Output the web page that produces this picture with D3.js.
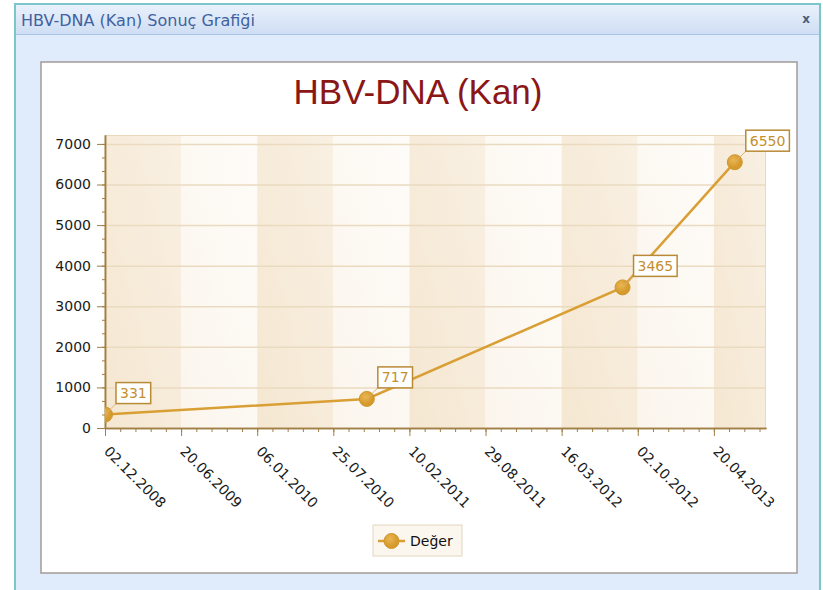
<!DOCTYPE html>
<html>
<head>
<meta charset="utf-8">
<script src="https://cdn.jsdelivr.net/npm/d3@7"></script>
<style>
  body { margin: 0; background: #fff; }
</style>
</head>
<body>
<div id="root"></div>
<script>
// values
const pointDates = ["02.12.2008", "21.10.2010", "23.08.2012", "14.06.2013"];
const pointValues = [331, 717, 3465, 6550];
const xTickLabels = ["02.12.2008", "20.06.2009", "06.01.2010", "25.07.2010", "10.02.2011",
  "29.08.2011", "16.03.2012", "02.10.2012", "20.04.2013"];
const xEnd = "04.09.2013";
const yTicks = [0, 1000, 2000, 3000, 4000, 5000, 6000, 7000];
const yMax = 7220;
const seriesName = "Değer";
const chartTitle = "HBV-DNA (Kan)";
const windowTitle = "HBV-DNA (Kan) Sonuç Grafiği";

const width = 823;
const height = 590;
const plotLeft = 105, plotRight = 766, plotTop = 135, plotBottom = 428;

const parse = d3.utcParse("%d.%m.%Y");
const data = pointDates.map((d, i) => ({ date: parse(d), value: pointValues[i] }));
const tickDates = xTickLabels.map(parse);

const svg = d3.select("#root").append("svg")
  .attr("width", width).attr("height", height)
  .style("display", "block");

const defs = svg.append("defs");

function grad(id, stops, x1, y1, x2, y2) {
  const g = defs.append("linearGradient").attr("id", id)
    .attr("x1", x1).attr("y1", y1).attr("x2", x2).attr("y2", y2);
  stops.forEach((s) => g.append("stop").attr("offset", s[0]).attr("stop-color", s[1]));
}
grad("titlebar", [[0, "#e9f1fc"], [1, "#cfdef4"]], 0, 0, 0, 1);
grad("bandDark", [[0, "#f5e7d1"], [1, "#f9f0e3"]], 0, 1, 1, 0);
grad("bandLight", [[0, "#fbf5ec"], [1, "#fefcf9"]], 0, 1, 1, 0);
const rg = defs.append("radialGradient").attr("id", "marker").attr("cx", "40%").attr("cy", "35%");
rg.append("stop").attr("offset", 0).attr("stop-color", "#eab651");
rg.append("stop").attr("offset", 1).attr("stop-color", "#d69a2c");
defs.append("clipPath").attr("id", "plotclip").append("rect")
  .attr("x", plotLeft).attr("y", plotTop)
  .attr("width", plotRight - plotLeft).attr("height", plotBottom - plotTop);

// window frame
svg.append("rect").attr("x", 15).attr("y", 4).attr("width", 805).attr("height", 600)
  .attr("fill", "#e0ecfc").attr("stroke", "#7cc5cb").attr("stroke-width", 2);
svg.append("rect").attr("x", 16).attr("y", 5).attr("width", 803).attr("height", 29)
  .attr("fill", "url(#titlebar)");
svg.append("line").attr("x1", 16).attr("x2", 819).attr("y1", 34.5).attr("y2", 34.5)
  .attr("stroke", "#a9c5ea");
svg.append("text").attr("x", 21).attr("y", 26)
  .attr("font-family", "DejaVu Sans").attr("font-size", 16).attr("fill", "#3f62a0")
  .text(windowTitle);
svg.append("text").attr("x", 806).attr("y", 23).attr("text-anchor", "middle")
  .attr("font-family", "DejaVu Sans").attr("font-weight", "bold").attr("font-size", 12)
  .attr("fill", "#4d5d75").text("x");

// chart panel
svg.append("rect").attr("x", 41).attr("y", 62).attr("width", 756).attr("height", 511)
  .attr("fill", "#fff").attr("stroke", "#a39a96").attr("stroke-width", 1.5);

svg.append("text").attr("x", 418).attr("y", 104).attr("text-anchor", "middle")
  .attr("font-family", "Liberation Sans").attr("font-size", 35).attr("fill", "#8b1616")
  .text(chartTitle);

const xScale = d3.scaleUtc().domain([tickDates[0], parse(xEnd)]).range([plotLeft, plotRight]);
const yScale = d3.scaleLinear().domain([0, yMax]).range([plotBottom, plotTop]);

// background bands between major ticks
const edges = tickDates.concat([parse(xEnd)]);
svg.append("g").selectAll("rect").data(d3.pairs(edges)).enter().append("rect")
  .attr("x", (d) => xScale(d[0]))
  .attr("y", plotTop)
  .attr("width", (d) => xScale(d[1]) - xScale(d[0]))
  .attr("height", plotBottom - plotTop)
  .attr("fill", (d, i) => (i % 2 === 0 ? "url(#bandDark)" : "url(#bandLight)"));

// horizontal grid
svg.append("g").selectAll("line").data(yTicks.slice(1)).enter().append("line")
  .attr("x1", plotLeft).attr("x2", plotRight)
  .attr("y1", (d) => yScale(d) + 0.5).attr("y2", (d) => yScale(d) + 0.5)
  .attr("stroke", "#eadbc0").attr("stroke-width", 1.5);

svg.append("rect").attr("x", plotLeft).attr("y", plotTop + 0.5)
  .attr("width", plotRight - plotLeft - 0.5).attr("height", plotBottom - plotTop)
  .attr("fill", "none").attr("stroke", "#e9d9bb");

// minor ticks
const dayMs = 86400000;
const minorX = d3.range(+tickDates[0], +parse(xEnd), 40 * dayMs).map((t) => new Date(t));
const minorY = d3.range(0, yMax, 1000 / 3);

const yAxis = d3.axisLeft(yScale).tickValues(yTicks).tickSize(8).tickSizeOuter(0).tickPadding(6)
  .tickFormat(d3.format("d"));
const yMinor = d3.axisLeft(yScale).tickValues(minorY).tickSize(3).tickFormat("").tickSizeOuter(0);
const xAxis = d3.axisBottom(xScale).tickValues(tickDates).tickSize(8).tickSizeOuter(0)
  .tickFormat((d, i) => xTickLabels[i]);
const xMinor = d3.axisBottom(xScale).tickValues(minorX).tickSize(4).tickFormat("").tickSizeOuter(0);

const axisColor = "#9f7f45";
function styleAxis(g) {
  g.selectAll("path").attr("stroke", axisColor).attr("stroke-width", 1.5);
  g.selectAll("line").attr("stroke", axisColor);
  g.selectAll("text").attr("fill", "#1a1a1a").attr("font-family", "DejaVu Sans").attr("font-size", 14);
}

svg.append("g").attr("transform", `translate(${plotLeft},0)`).call(yMinor).call(styleAxis);
svg.append("g").attr("id", "y-axis").attr("transform", `translate(${plotLeft},0)`).call(yAxis).call(styleAxis);
svg.append("g").attr("transform", `translate(0,${plotBottom})`).call(xMinor).call(styleAxis);
const gx = svg.append("g").attr("id", "x-axis").attr("transform", `translate(0,${plotBottom})`)
  .call(xAxis).call(styleAxis);
gx.selectAll("text")
  .attr("text-anchor", "start")
  .attr("dy", "0.35em")
  .attr("transform", "translate(9,13) rotate(45)");

// series
const line = d3.line().x((d) => xScale(d.date)).y((d) => yScale(d.value));
const series = svg.append("g").attr("clip-path", "url(#plotclip)");
series.append("path").datum(data).attr("d", line)
  .attr("fill", "none").attr("stroke", "#d99f34").attr("stroke-width", 2.5);

// label connectors
const labels = svg.append("g");
labels.selectAll("line").data(data).enter().append("line")
  .attr("x1", (d) => xScale(d.date)).attr("y1", (d) => yScale(d.value))
  .attr("x2", (d) => xScale(d.date) + 11).attr("y2", (d) => yScale(d.value) - 11)
  .attr("stroke", "#d8b479").attr("stroke-width", 1);

series.selectAll("circle").data(data).enter().append("circle")
  .attr("cx", (d) => xScale(d.date)).attr("cy", (d) => yScale(d.value))
  .attr("r", 7.5).attr("fill", "url(#marker)").attr("stroke", "#cf962e").attr("stroke-width", 1);

// data labels
const lab = labels.selectAll("g.lab").data(data).enter().append("g").attr("class", "lab")
  .attr("transform", (d) => `translate(${xScale(d.date) + 11},${yScale(d.value) - 11})`);
lab.append("rect").attr("y", -21).attr("height", 21)
  .attr("width", (d) => String(d.value).length * 8.9 + 8)
  .attr("fill", "#fff").attr("stroke", "#b98a36").attr("stroke-width", 1.5);
lab.append("text").attr("x", 4).attr("y", -5.5)
  .attr("font-family", "DejaVu Sans").attr("font-size", 14).attr("fill", "#c48f2e")
  .text((d) => d.value);

// legend
const leg = svg.append("g").attr("transform", "translate(373,525)");
leg.append("rect").attr("width", 89).attr("height", 31)
  .attr("fill", "#fbf6ee").attr("stroke", "#e3d6bf");
leg.append("line").attr("x1", 5).attr("x2", 32).attr("y1", 16).attr("y2", 16)
  .attr("stroke", "#d99f34").attr("stroke-width", 2.5);
leg.append("circle").attr("cx", 18.5).attr("cy", 16).attr("r", 7.5)
  .attr("fill", "url(#marker)").attr("stroke", "#cf962e");
leg.append("text").attr("x", 37).attr("y", 21)
  .attr("font-family", "DejaVu Sans").attr("font-size", 14).attr("fill", "#111")
  .text(seriesName);
</script>
</body>
</html>
